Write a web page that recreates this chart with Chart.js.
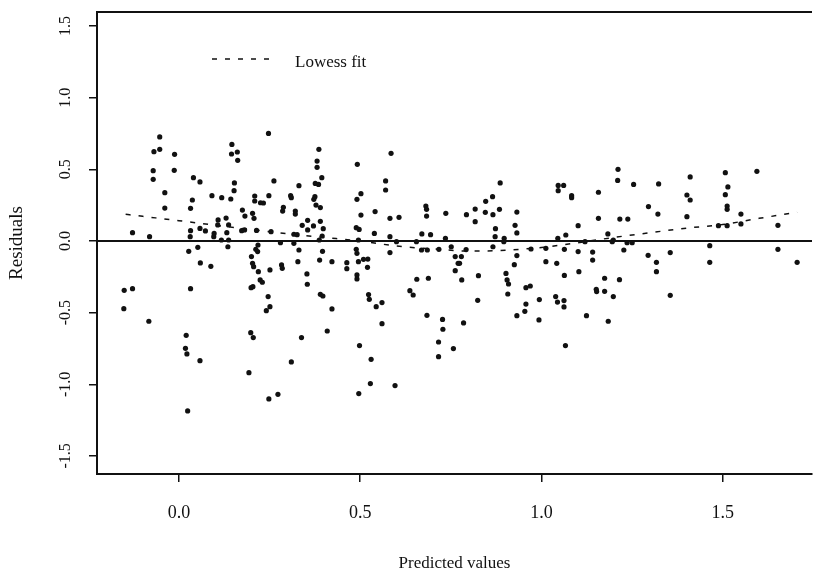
<!DOCTYPE html>
<html>
<head>
<meta charset="utf-8">
<script src="https://cdn.jsdelivr.net/npm/chart.js@4.4.1/dist/chart.umd.min.js"></script>
<style>
  html, body { margin: 0; padding: 0; background: #fff; overflow: hidden; }
  canvas { display: block; }
</style>
</head>
<body>
<canvas id="cnv_resid" width="816" height="570"></canvas>
<script>
// axis setup
const xTicks = [0, 0.5, 1.0, 1.5];
const yTicks = [-1.5, -1.0, -0.5, 0, 0.5, 1.0, 1.5];
const xRange = [-0.226, 1.746];
const yRange = [-1.626, 1.598];

// residuals (left to right)
const predictedA = [
	-0.053, -0.069, -0.053, -0.012, -0.071, -0.013, -0.071, -0.039, -0.039, -0.128, -0.081, -0.151, -0.128, -0.152, -0.083,
	0.040, 0.058, 0.037, 0.032, 0.032, 0.031, 0.027, 0.052, 0.058, 0.073, 0.059, 0.088, 0.032, 0.020, 0.018, 0.022, 0.058, 0.024,
	0.091, 0.118, 0.143, 0.146, 0.145, 0.161, 0.162, 0.153, 0.152, 0.108, 0.107, 0.097, 0.096, 0.130, 0.137, 0.132, 0.117, 0.137, 0.135, 0.175,
	0.182, 0.203, 0.207, 0.181, 0.173, 0.209, 0.209, 0.225, 0.233, 0.248, 0.247, 0.262, 0.214, 0.218, 0.212, 0.217, 0.200, 0.203, 0.206, 0.219,
	0.251, 0.224, 0.230, 0.204, 0.199, 0.246, 0.251, 0.241, 0.198, 0.205, 0.193, 0.248, 0.273, 0.254
];
const residualA = [
	0.726, 0.623, 0.640, 0.605, 0.491, 0.493, 0.430, 0.337, 0.230, 0.058, 0.030, -0.344, -0.333, -0.472, -0.560,
	0.442, 0.412, 0.286, 0.228, 0.072, 0.030, -0.072, -0.044, 0.088, 0.070, -0.153, -0.177, -0.333, -0.658, -0.749, -0.788, -0.835, -1.186,
	0.316, 0.302, 0.293, 0.674, 0.607, 0.621, 0.563, 0.405, 0.351, 0.147, 0.112, 0.053, 0.030, 0.160, 0.112, 0.058, 0.007, 0.007, -0.040, 0.216,
	0.174, 0.193, 0.158, 0.077, 0.072, 0.314, 0.279, 0.267, 0.265, 0.316, 0.751, 0.419, 0.074, -0.028, -0.058, -0.074, -0.109, -0.156, -0.179, -0.214,
	-0.202, -0.272, -0.288, -0.319, -0.326, -0.388, -0.458, -0.486, -0.640, -0.674, -0.919, -1.102, -1.070, 0.065
];

const predictedB = [
	0.386, 0.381, 0.381, 0.394, 0.376, 0.385, 0.331, 0.308, 0.310, 0.375, 0.372, 0.378, 0.390, 0.288, 0.286, 0.321, 0.321, 0.355, 0.340, 0.371,
	0.355, 0.390, 0.398, 0.317, 0.326, 0.395, 0.387, 0.280, 0.317, 0.331, 0.396, 0.283, 0.285, 0.328, 0.388, 0.422, 0.353, 0.354, 0.390, 0.397,
	0.422, 0.409, 0.338, 0.310,
	0.492, 0.502, 0.491, 0.502, 0.489, 0.497, 0.495, 0.489, 0.491, 0.463, 0.463, 0.495, 0.509, 0.521, 0.520, 0.491, 0.491, 0.523, 0.525, 0.544,
	0.560, 0.560, 0.498, 0.530, 0.528, 0.496, 0.596,
	0.585, 0.570, 0.570, 0.541, 0.539, 0.582, 0.607, 0.582, 0.600, 0.582, 0.681, 0.683, 0.683, 0.670, 0.694, 0.736, 0.735, 0.655, 0.669, 0.685,
	0.717, 0.751, 0.762, 0.770, 0.762, 0.656, 0.688, 0.637, 0.646, 0.684, 0.727, 0.728, 0.716, 0.757, 0.716
];
const residualB = [
	0.640, 0.558, 0.514, 0.442, 0.402, 0.395, 0.386, 0.316, 0.302, 0.309, 0.291, 0.251, 0.233, 0.235, 0.209, 0.209, 0.188, 0.144, 0.109, 0.105,
	0.077, 0.137, 0.086, 0.047, 0.044, 0.035, 0.007, -0.012, -0.016, -0.063, -0.072, -0.167, -0.191, -0.144, -0.133, -0.144, -0.230, -0.302, -0.372, -0.384,
	-0.474, -0.628, -0.674, -0.844,
	0.535, 0.330, 0.291, 0.181, 0.093, 0.081, 0.007, -0.058, -0.086, -0.151, -0.193, -0.144, -0.128, -0.126, -0.184, -0.237, -0.265, -0.374, -0.407, -0.458,
	-0.430, -0.577, -0.730, -0.826, -0.995, -1.065, -1.009,
	0.612, 0.419, 0.356, 0.205, 0.053, 0.158, 0.165, 0.030, -0.005, -0.081, 0.244, 0.221, 0.174, 0.049, 0.044, 0.193, 0.019, -0.005, -0.063, -0.063,
	-0.058, -0.040, -0.109, -0.156, -0.207, -0.267, -0.260, -0.347, -0.377, -0.519, -0.547, -0.616, -0.705, -0.751, -0.807
];

const predictedC = [
	0.886, 0.865, 0.846, 0.817, 0.793, 0.817, 0.845, 0.866, 0.884, 0.873, 0.872, 0.897, 0.896, 0.866, 0.792, 0.779, 0.774, 0.780, 0.826, 0.824,
	0.785, 0.932, 0.927, 0.932, 0.932, 0.925, 0.902, 0.905, 0.909, 0.907, 0.957, 0.969, 0.957, 0.954, 0.932, 0.994, 0.993, 0.971, 1.012, 1.012,
	1.042, 1.045, 1.067, 1.063, 1.046, 1.061, 1.046, 1.083, 1.083, 1.101, 1.101, 1.103, 1.063, 1.039, 1.044, 1.062, 1.062, 1.066, 1.124, 1.120,
	1.157, 1.157, 1.141, 1.141, 1.151, 1.152, 1.174, 1.174, 1.184, 1.183, 1.198, 1.195, 1.216, 1.238, 1.211, 1.210, 1.254, 1.227, 1.215, 1.198,
	1.236, 1.250
];
const residualC = [
	0.405, 0.309, 0.277, 0.223, 0.184, 0.135, 0.200, 0.184, 0.221, 0.086, 0.030, 0.019, -0.005, -0.040, -0.060, -0.109, -0.156, -0.272, -0.242, -0.414,
	-0.572, 0.202, 0.109, 0.056, -0.102, -0.165, -0.226, -0.272, -0.300, -0.370, -0.326, -0.314, -0.440, -0.491, -0.521, -0.409, -0.551, -0.056, -0.051, -0.144,
	-0.156, 0.019, 0.042, -0.058, 0.388, 0.388, 0.351, 0.316, 0.302, 0.107, -0.074, -0.214, -0.240, -0.388, -0.426, -0.416, -0.460, -0.730, -0.521, -0.005,
	0.340, 0.158, -0.077, -0.133, -0.337, -0.353, -0.260, -0.351, -0.560, 0.049, 0.007, -0.005, 0.153, 0.153, 0.500, 0.423, 0.395, -0.063, -0.270, -0.388,
	-0.012, -0.012
];

const predictedD = [
	1.323, 1.295, 1.321, 1.294, 1.317, 1.317, 1.355, 1.355, 1.410, 1.401, 1.410, 1.401, 1.464, 1.464, 1.507, 1.514, 1.507, 1.512, 1.512, 1.488,
	1.512, 1.550, 1.550, 1.594, 1.652, 1.652, 1.705
];
const residualD = [
	0.398, 0.240, 0.188, -0.100, -0.149, -0.214, -0.081, -0.379, 0.447, 0.321, 0.286, 0.170, -0.033, -0.149, 0.477, 0.377, 0.323, 0.244, 0.221, 0.107,
	0.107, 0.188, 0.119, 0.486, 0.109, -0.058, -0.149
];

// lowess smooth
const lowessX = [-0.147, -0.10, -0.05, 0.0, 0.1, 0.2, 0.3, 0.4, 0.5, 0.6, 0.7, 0.8, 0.9, 1.0, 1.1, 1.2, 1.3, 1.4, 1.5, 1.6, 1.705];
const lowessY = [0.186, 0.172, 0.157, 0.142, 0.11, 0.08, 0.05, 0.025, 0.0, -0.035, -0.055, -0.07, -0.065, -0.045, -0.012, 0.025, 0.058, 0.09, 0.115, 0.158, 0.2];

const serif = "'Liberation Serif', 'DejaVu Serif', serif";
const ink = '#111';

const predicted = [...predictedA, ...predictedB, ...predictedC, ...predictedD];
const residuals = [...residualA, ...residualB, ...residualC, ...residualD];
const residualPoints = predicted.map((x, i) => ({ x, y: residuals[i] }));
const lowessPoints = lowessX.map((x, i) => ({ x, y: lowessY[i] }));

// rotated y labels, top frame line, legend key
const framePlugin = {
	id: 'framePlugin',
	afterDraw(chart) {
		const { ctx, chartArea, scales: { y } } = chart;
		ctx.save();
		ctx.fillStyle = ink;
		ctx.font = `16px ${serif}`;
		ctx.textAlign = 'center';
		ctx.textBaseline = 'middle';
		yTicks.forEach(v => {
			ctx.save();
			ctx.translate(66, y.getPixelForValue(v));
			ctx.rotate(-Math.PI / 2);
			ctx.fillText(v.toFixed(1), 0, 0);
			ctx.restore();
		});

		ctx.strokeStyle = ink;
		ctx.lineWidth = 2;
		ctx.beginPath();
		ctx.moveTo(chartArea.left, chartArea.top);
		ctx.lineTo(chartArea.right, chartArea.top);
		ctx.stroke();

		ctx.lineWidth = 1.5;
		ctx.setLineDash([5, 8]);
		ctx.beginPath();
		ctx.moveTo(212, 59);
		ctx.lineTo(270, 59);
		ctx.stroke();
		ctx.setLineDash([]);
		ctx.font = `17px ${serif}`;
		ctx.textAlign = 'left';
		ctx.fillText('Lowess fit', 295, 63);
		ctx.restore();
	}
};

const axisGrid = { display: true, drawOnChartArea: false, drawTicks: true, tickLength: 8, color: ink, lineWidth: 1.5 };
const axisBorder = { display: true, color: ink, width: 2 };

new Chart(document.getElementById('cnv_resid').getContext('2d'), {
	type: 'scatter',
	plugins: [framePlugin],
	data: {
		datasets: [{
			label: 'Residuals',
			data: residualPoints,
			pointRadius: 2.6,
			pointBackgroundColor: ink,
			pointBorderWidth: 0,
			showLine: false
		}, {
			label: 'Zero',
			data: [{ x: xRange[0], y: 0 }, { x: xRange[1], y: 0 }],
			showLine: true,
			borderColor: ink,
			borderWidth: 1.8,
			pointRadius: 0
		}, {
			label: 'Lowess fit',
			data: lowessPoints,
			showLine: true,
			borderColor: ink,
			borderWidth: 1.5,
			borderDash: [5, 8],
			cubicInterpolationMode: 'monotone',
			pointRadius: 0
		}]
	},
	options: {
		responsive: false,
		animation: false,
		layout: { padding: { top: 12, left: 0, right: 0, bottom: 0 } },
		plugins: { legend: { display: false }, tooltip: { enabled: false } },
		scales: {
			x: {
				type: 'linear',
				position: 'bottom',
				min: xRange[0],
				max: xRange[1],
				afterBuildTicks: s => { s.ticks = xTicks.map(value => ({ value })); },
				afterFit: s => { s.height = 96; },
				grid: axisGrid,
				border: axisBorder,
				ticks: {
					color: ink,
					font: { family: serif, size: 18 },
					padding: 20,
					maxRotation: 0,
					callback: v => Number(v).toFixed(1)
				},
				title: {
					display: true,
					text: 'Predicted values',
					color: ink,
					font: { family: serif, size: 17, lineHeight: 1 },
					padding: { top: 0, bottom: -2 }
				}
			},
			y: {
				type: 'linear',
				min: yRange[0],
				max: yRange[1],
				afterBuildTicks: s => { s.ticks = yTicks.map(value => ({ value })); },
				afterFit: s => { s.width = 97; },
				grid: axisGrid,
				border: axisBorder,
				ticks: { display: false },
				title: {
					display: true,
					text: 'Residuals',
					color: ink,
					font: { family: serif, size: 19, lineHeight: 1 },
					padding: { top: 8, bottom: 0 }
				}
			}
		}
	}
});
</script>
</body>
</html>
